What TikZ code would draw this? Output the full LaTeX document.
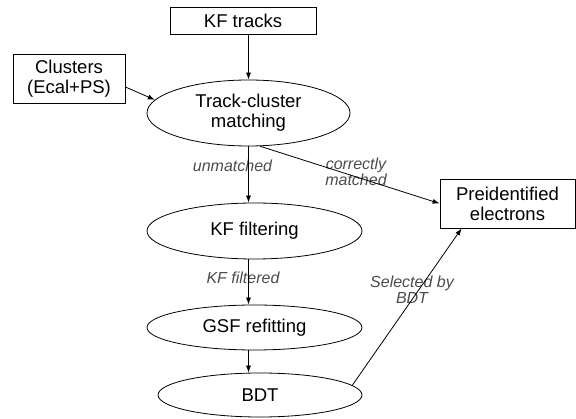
\documentclass[tikz,border=0pt]{standalone}
\usepackage{fontspec}
\setmainfont{Liberation Sans}
\usetikzlibrary{arrows.meta,shapes.geometric}

\begin{document}
\begin{tikzpicture}[x=1pt,y=-1pt,line width=0.8pt,
  inbox/.style={draw,rectangle,inner sep=0pt,align=center,
    font=\fontsize{18.5}{20}\selectfont},
  proc/.style={draw,ellipse,inner sep=0pt,align=center,
    font=\fontsize{18.5}{20}\selectfont},
  lbl/.style={align=center,text=black!70,
    font=\fontsize{16}{16}\selectfont\itshape},
  arr/.style={-{Latex[length=7pt,width=5pt]}}]
  \useasboundingbox (0,0) rectangle (576,419);
  % inputs and output
  \node[inbox,minimum width=146pt,minimum height=27pt] (kftracks) at (243,20.5) {KF tracks};
  \node[inbox,minimum width=112pt,minimum height=49pt] (clusters) at (69,78.5) {Clusters\\(Ecal+PS)};
  \node[inbox,minimum width=135pt,minimum height=49pt] (preid) at (507.5,203.5) {Preidentified\\electrons};
  % processing steps
  \node[proc,minimum width=203pt,minimum height=66pt] (match) at (248.5,113) {Track-cluster\\matching};
  \node[proc,minimum width=215pt,minimum height=56pt] (kffilt) at (254.5,231) {KF filtering};
  \node[proc,minimum width=215pt,minimum height=45pt] (gsf) at (254.5,327.5) {GSF refitting};
  \node[proc,minimum width=204pt,minimum height=44pt] (bdt) at (260,395) {BDT};
  % edge labels
  \node[lbl] (unm) at (232.5,166) {unmatched};
  \node[lbl] (corr) at (356,172) {correctly\\matched};
  \node[lbl] (kff) at (243,278) {KF filtered};
  \node[lbl] (sel) at (412,290) {Selected by\\BDT};
  % connectors
  \draw[arr] (kftracks.south -| match.north) -- (match.north);
  \draw[arr] ([yshift=-8.5pt]clusters.east) -- (match.172);
  \draw[arr] (match.south) -- (match.south |- kffilt.north);
  \draw[arr] (kffilt.south -| match.south) -- (gsf.north -| match.south);
  \draw[arr] (gsf.south -| match.south) -- (bdt.north -| match.south);
  \draw[arr] (match.-71) -- (preid.west);
  \draw[arr] (bdt.6) -- ([xshift=22pt]preid.south west);
\end{tikzpicture}
\end{document}
